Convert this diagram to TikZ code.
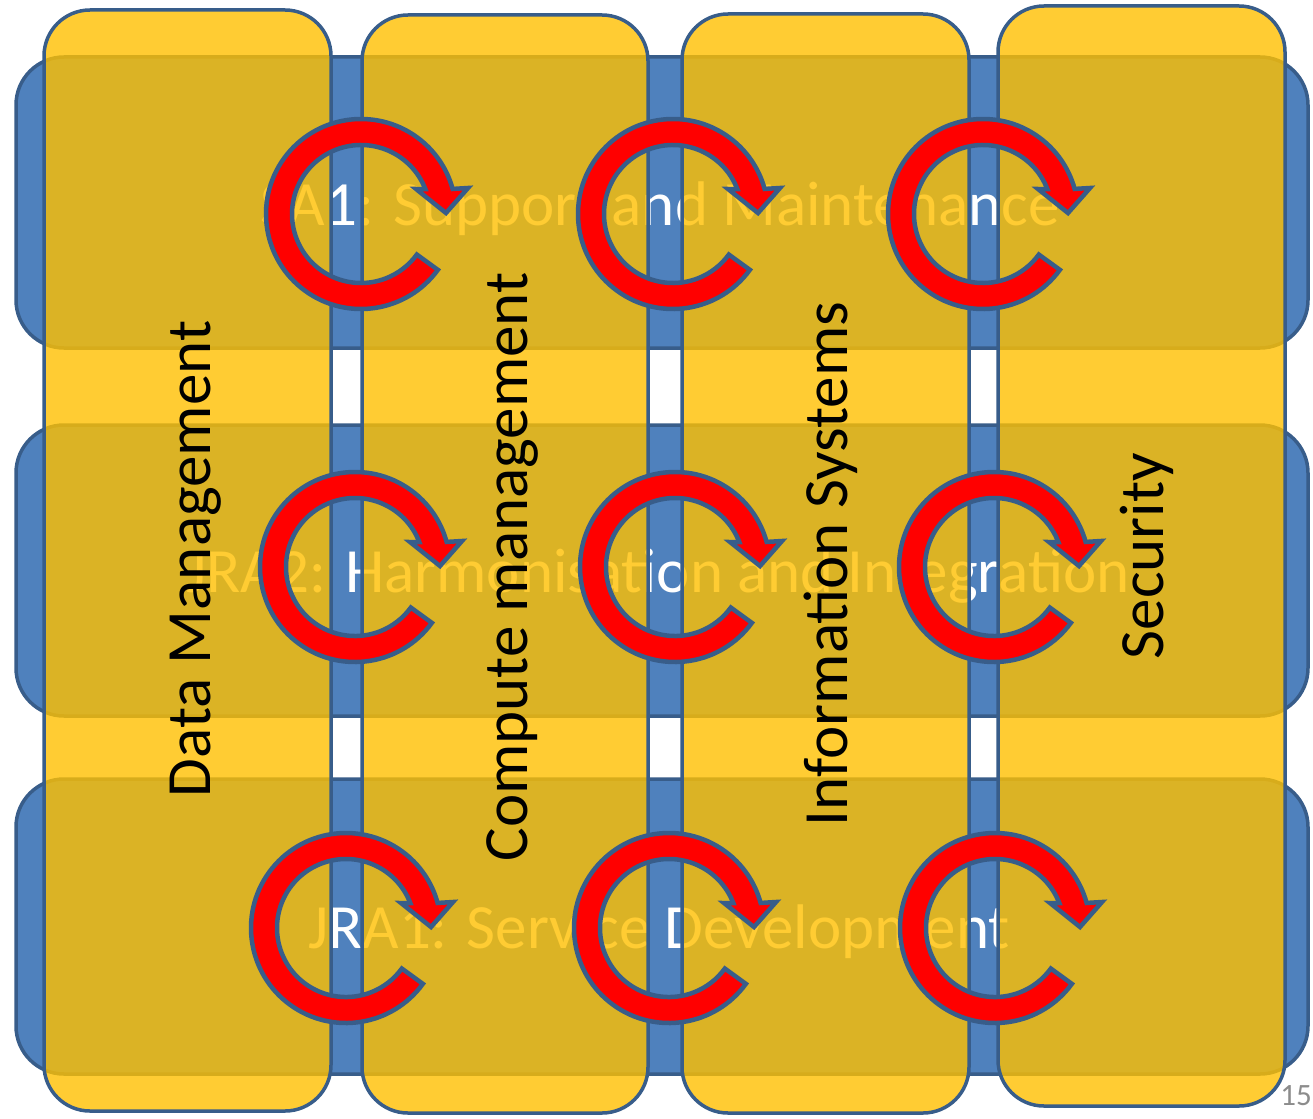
\documentclass[tikz,border=0pt]{standalone}
\usepackage{fontspec}
\setmainfont{Carlito}
\definecolor{rowblue}{HTML}{4F81BD}
\definecolor{edgeblue}{HTML}{385D8A}
\definecolor{colyellow}{HTML}{FFC000}
\definecolor{pagegray}{HTML}{8C8C8C}
\tikzset{
  rowbox/.style={draw=edgeblue, line width=3.5pt, fill=rowblue, rounded corners=48pt,
    minimum width=1292pt, inner sep=0pt, outer sep=0pt},
  colbox/.style={draw=edgeblue, line width=3.5pt, fill=colyellow, fill opacity=0.8,
    draw opacity=1, rounded corners=46pt, minimum width=287pt, inner sep=0pt, outer sep=0pt},
  rowlabel/.style={text=white, font=\fontsize{63}{70}\selectfont, anchor=base, inner sep=0pt},
  collabel/.style={text=black, font=\fontsize{63}{70}\selectfont, anchor=base, rotate=90, inner sep=0pt},
  cyclestyle/.style={draw=edgeblue, line width=4.5pt, fill=red, line join=miter},
  cycarrow/.pic={
    \path[cyclestyle] (-36:95pt) arc[start angle=-36, end angle=-344.7, radius=95pt]
      -- (107,26) -- (85,1) -- (55,25) -- (21.2:69pt)
      arc[start angle=-338.8, end angle=-36, radius=69pt] -- cycle;
  }
}
\begin{document}
\begin{tikzpicture}[x=1pt,y=1pt]
\useasboundingbox (0,0) rectangle (1313,-1118);
\fill[white] (0,0) rectangle (1313,-1118);

% rows
\node[rowbox, minimum height=291pt] (row1) at (662,-202.5) {};
\node[rowbox, minimum height=291pt] (row2) at (662,-570.5) {};
\node[rowbox, minimum height=295pt] (row3) at (662,-926.5) {};

\node[rowlabel] (row1lab) at (660,-225) {SA1: Support and Maintenance};
\node[rowlabel] (row2lab) at (658,-592) {JRA2: Harmonisation and Integration};
\node[rowlabel] (row3lab) at (659,-948) {JRA1: Service Development};

% columns
\node[colbox, minimum height=1101pt] (col1) at (187.5,-560.5) {};
\node[colbox, minimum width=286pt, minimum height=1098pt] (col2) at (505,-564) {};
\node[colbox, minimum height=1099pt] (col3) at (825.5,-563.5) {};
\node[colbox, minimum height=1100pt] (col4) at (1141.5,-556) {};

\node[collabel] (col1lab) at (210,-559) {Data Management};
\node[collabel] (col2lab) at (527,-567) {Compute management};
\node[collabel] (col3lab) at (847,-564) {Information Systems};
\node[collabel] (col4lab) at (1163,-556) {Security};

% circular arrows
\pic at (361,-214) {cycarrow};
\pic at (673,-214) {cycarrow};
\pic at (983,-214) {cycarrow};
\pic at (355,-567) {cycarrow};
\pic at (675,-567) {cycarrow};
\pic at (994,-567) {cycarrow};
\pic at (346,-928) {cycarrow};
\pic at (669,-928) {cycarrow};
\pic at (995,-928) {cycarrow};

\node[anchor=base east, text=pagegray, font=\fontsize{31}{34}\selectfont, inner sep=0pt] (pnum) at (1312,-1105) {15};
\end{tikzpicture}
\end{document}
